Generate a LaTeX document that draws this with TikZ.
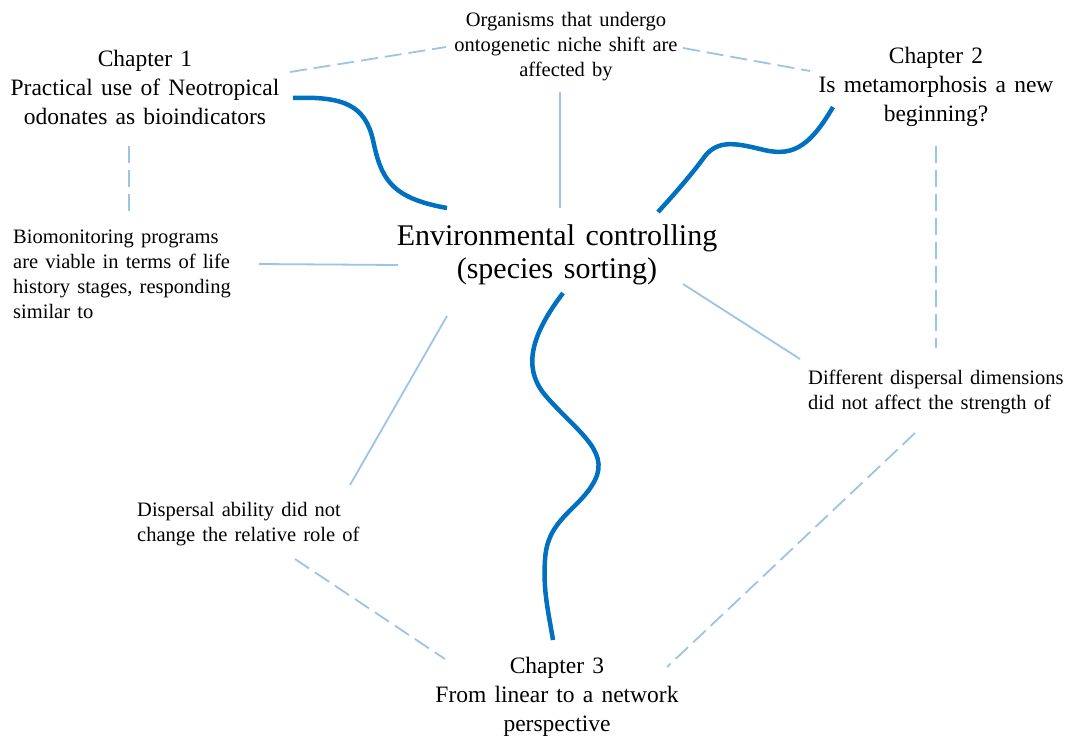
\documentclass[tikz,border=0pt]{standalone}
\usepackage{fontspec}
\setmainfont{Liberation Serif}[WordSpace=1.4]
\definecolor{thickblue}{HTML}{0070C0}
\definecolor{thinblue}{HTML}{9DC3E6}
\begin{document}
\begin{tikzpicture}[x=1pt,y=-1pt,
  chap/.style={align=center,inner sep=0pt,font=\fontsize{23.5}{29}\selectfont},
  small/.style={inner sep=0pt,font=\fontsize{20.5}{25}\selectfont},
  core/.style={align=center,inner sep=0pt,font=\fontsize{30}{33}\selectfont},
  thickcurve/.style={draw=thickblue,line width=4.5pt},
  thinline/.style={draw=thinblue,line width=1.8pt},
  dashline/.style={draw=thinblue,line width=1.8pt,dash pattern=on 17pt off 7pt}]
\useasboundingbox (0,0) rectangle (1073,742);

% text nodes
\node[chap] (ch1) at (145,87) {Chapter 1\\Practical use of Neotropical\\odonates as bioindicators};
\node[chap] (ch2) at (936,87) {Chapter 2\\Is metamorphosis a new\\beginning?};
\node[chap] (ch3) at (557,697) {Chapter 3\\From linear to a network\\perspective};
\node[small,align=center] (org) at (566,47) {Organisms that undergo\\ontogenetic niche shift are\\affected by};
\node[core] (env) at (557,255) {Environmental controlling\\(species sorting)};
\node[small,align=left,anchor=west] (bio) at (13,274) {Biomonitoring programs\\are viable in terms of life\\history stages, responding\\similar to};
\node[small,align=left,anchor=west] (diff) at (808,392) {Different dispersal dimensions\\did not affect the strength of};
\node[small,align=left,anchor=west] (disp) at (137,524) {Dispersal ability did not\\change the relative role of};

% connector end points
\coordinate (ch1R) at (290,72);
\coordinate (orgL) at (446,47);
\coordinate (orgR) at (683,48);
\coordinate (ch2L) at (810,71);
\coordinate (ch1B) at (129,146);
\coordinate (bioT) at (129,212);
\coordinate (ch2B) at (936,146);
\coordinate (diffT) at (936,348);
\coordinate (orgB) at (560,92);
\coordinate (envT) at (560,208);
\coordinate (bioR) at (259,264);
\coordinate (envL) at (398,265);
\coordinate (envR) at (683,284);
\coordinate (diffL) at (800,359);
\coordinate (envB) at (447,316);
\coordinate (dispT) at (350,485);
\coordinate (dispB) at (295,559);
\coordinate (ch3L) at (445,659);
\coordinate (diffB) at (915,433);
\coordinate (ch3R) at (667,667);
\coordinate (ch1C) at (293,98);
\coordinate (envC1) at (447,208);
\coordinate (ch2C) at (833,107);
\coordinate (envC2) at (658,212);
\coordinate (envC3) at (563,293);
\coordinate (ch3C) at (553,640);

% dashed connectors
\draw[dashline] (ch1R) -- (orgL);
\draw[dashline] (orgR) -- (ch2L);
\draw[dashline] (ch1B) -- (bioT);
\draw[dashline] (ch2B) -- (diffT);
\draw[dashline] (dispB) -- (ch3L);
\draw[dashline] (diffB) -- (ch3R);

% thin solid connectors
\draw[thinline] (orgB) -- (envT);
\draw[thinline] (bioR) -- (envL);
\draw[thinline] (envR) -- (diffL);
\draw[thinline] (envB) -- (dispT);

% thick curves
\draw[thickcurve] (ch1C) .. controls (345,96) and (365,106) .. (373,140)
  .. controls (381,178) and (390,198) .. (envC1);
\draw[thickcurve] (envC2) .. controls (680,188) and (695,170) .. (705,156)
  .. controls (718,140) and (735,143) .. (760,149)
  .. controls (790,157) and (808,150) .. (ch2C);
\draw[thickcurve] (envC3) .. controls (535,330) and (520,365) .. (545,395)
  .. controls (575,430) and (610,450) .. (595,480)
  .. controls (580,510) and (547,518) .. (545,560)
  .. controls (543,590) and (548,610) .. (ch3C);
\end{tikzpicture}
\end{document}
